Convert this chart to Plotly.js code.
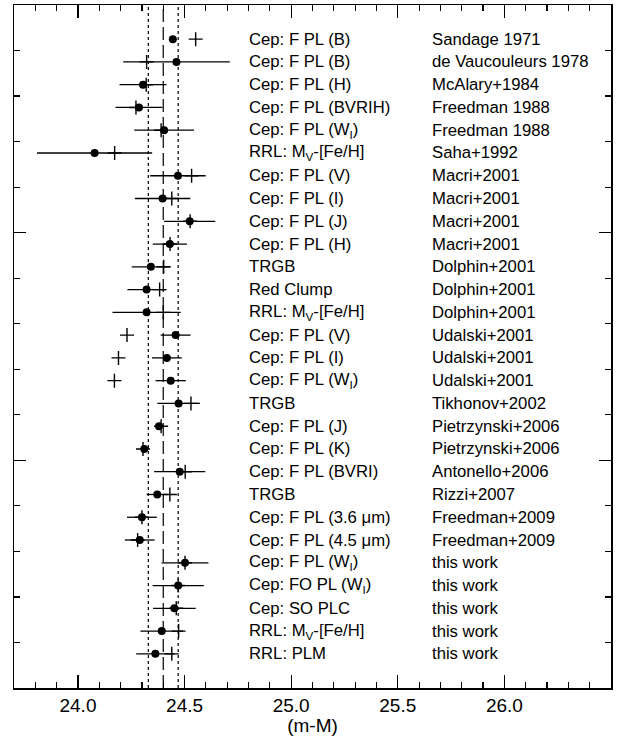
<!DOCTYPE html>
<html>
<head>
<meta charset="utf-8">
<script src="https://cdn.plot.ly/plotly-3.0.1.min.js"></script>
<style>html,body{margin:0;padding:0;background:#fff;}#chart{width:618px;height:736px;}</style>
</head>
<body>
<div id="chart"></div>
<script>
// Method labels (left column) and references (right column), top to bottom
const methods = [
  "Cep: F PL (B)", "Cep: F PL (B)", "Cep: F PL (H)", "Cep: F PL (BVRIH)", "Cep: F PL (W<sub>I</sub>)",
  "RRL: M<sub>V</sub>-[Fe/H]", "Cep: F PL (V)", "Cep: F PL (I)", "Cep: F PL (J)", "Cep: F PL (H)",
  "TRGB", "Red Clump", "RRL: M<sub>V</sub>-[Fe/H]", "Cep: F PL (V)", "Cep: F PL (I)",
  "Cep: F PL (W<sub>I</sub>)", "TRGB", "Cep: F PL (J)", "Cep: F PL (K)", "Cep: F PL (BVRI)",
  "TRGB", "Cep: F PL (3.6 μm)", "Cep: F PL (4.5 μm)", "Cep: F PL (W<sub>I</sub>)", "Cep: FO PL (W<sub>I</sub>)",
  "Cep: SO PLC", "RRL: M<sub>V</sub>-[Fe/H]", "RRL: PLM"
];
const references = [
  "Sandage 1971", "de Vaucouleurs 1978", "McAlary+1984", "Freedman 1988", "Freedman 1988",
  "Saha+1992", "Macri+2001", "Macri+2001", "Macri+2001", "Macri+2001",
  "Dolphin+2001", "Dolphin+2001", "Dolphin+2001", "Udalski+2001", "Udalski+2001",
  "Udalski+2001", "Tikhonov+2002", "Pietrzynski+2006", "Pietrzynski+2006", "Antonello+2006",
  "Rizzi+2007", "Freedman+2009", "Freedman+2009", "this work", "this work",
  "this work", "this work", "this work"
];
// Distance modulus (filled circles) and errors
const modulus = [
  24.445, 24.462, 24.305, 24.286, 24.404,
  24.078, 24.469, 24.397, 24.524, 24.431,
  24.342, 24.322, 24.322, 24.458, 24.417,
  24.435, 24.472, 24.380, 24.311, 24.477,
  24.372, 24.300, 24.290, 24.502, 24.470,
  24.452, 24.393, 24.363
];
const modulusErr = [
  0, 0.25, 0.11, 0.11, 0.14,
  0.27, 0.13, 0.13, 0.12, 0.08,
  0.09, 0.09, 0.16, 0.07, 0.07,
  0.071, 0.10, 0.02, 0.02, 0.12,
  0.05, 0.07, 0.07, 0.11, 0.12,
  0.10, 0.10, 0.09
];
// Rescaled values (plus signs)
const rescaled = [
  24.552, 24.322, 24.320, 24.272, 24.390,
  24.172, 24.533, 24.440, 24.526, 24.432,
  24.402, 24.383, 24.400, 24.230, 24.190,
  24.171, 24.530, 24.390, 24.305, 24.503,
  24.431, 24.300, 24.280, 24.502, 24.470,
  24.461, 24.472, 24.440
];
// Vertical reference lines: mean (dashed) and +/- sigma (dotted)
const meanValue = [24.40];
const sigmaValues = [24.33, 24.47];
const xTickVals = [24.0, 24.5, 25.0, 25.5, 26.0];

const rowY = methods.map((_, i) => i + 1.5);
const methodX = 24.795, refX = 25.649;

const FONT = 'Liberation Sans, Arial, Helvetica, sans-serif';

const traces = [
  {
    type: 'scatter', mode: 'markers', x: modulus, y: rowY,
    error_x: {type: 'data', array: modulusErr, visible: true, color: '#000', thickness: 1.3, width: 0},
    marker: {symbol: 'circle', size: 8, color: '#000'},
    hoverinfo: 'x', showlegend: false
  },
  {
    type: 'scatter', mode: 'markers', x: rescaled, y: rowY,
    marker: {symbol: 'cross-thin', size: 10, color: '#000', line: {color: '#000', width: 1.4}},
    hoverinfo: 'x', showlegend: false
  }
];

const annotations = [];
methods.forEach((m, i) => {
  annotations.push({x: methodX, y: rowY[i], xref: 'x', yref: 'y', text: m, showarrow: false,
    xanchor: 'left', yanchor: 'middle', font: {family: FONT, size: 16.7, color: '#000'}});
  annotations.push({x: refX, y: rowY[i], xref: 'x', yref: 'y', text: references[i], showarrow: false,
    xanchor: 'left', yanchor: 'middle', font: {family: FONT, size: 16.7, color: '#000'}});
});

const shapes = [];
meanValue.forEach(v => shapes.push({type: 'line', xref: 'x', yref: 'paper', x0: v, x1: v, y0: 0, y1: 1,
  layer: 'below', line: {color: '#000', width: 1.2, dash: '13px,5px'}}));
sigmaValues.forEach(v => shapes.push({type: 'line', xref: 'x', yref: 'paper', x0: v, x1: v, y0: 0, y1: 1,
  layer: 'below', line: {color: '#000', width: 1.2, dash: 'dot'}}));

const layout = {
  width: 618, height: 736,
  margin: {l: 14, r: 7, t: 5, b: 48},
  paper_bgcolor: '#fff', plot_bgcolor: '#fff',
  font: {family: FONT, color: '#000'},
  showlegend: false,
  xaxis: {
    range: [23.7, 26.5], tickvals: xTickVals, tickformat: '.1f',
    ticks: 'inside', ticklen: 13, tickwidth: 1.2, tickcolor: '#000',
    minor: {dtick: 0.1, tick0: 0, ticks: 'inside', ticklen: 6, tickwidth: 1.2, tickcolor: '#000', showgrid: false},
    showline: true, linecolor: '#000', linewidth: 1.5, mirror: 'allticks',
    showgrid: false, zeroline: false,
    tickfont: {family: FONT, size: 19, color: '#000'},
    title: {text: '(m-M)', font: {family: FONT, size: 19, color: '#000'}, standoff: 7}
  },
  yaxis: {
    range: [30, 0], tickmode: 'linear', tick0: 0, dtick: 10,
    ticks: 'inside', ticklen: 12, tickwidth: 1.2, tickcolor: '#000',
    minor: {dtick: 2, tick0: 0, ticks: 'inside', ticklen: 6, tickwidth: 1.2, tickcolor: '#000', showgrid: false},
    showticklabels: false,
    showline: true, linecolor: '#000', linewidth: 1.5, mirror: 'allticks',
    showgrid: false, zeroline: false
  },
  annotations: annotations,
  shapes: shapes
};

Plotly.newPlot('chart', traces, layout, {displayModeBar: false, staticPlot: true});
</script>
</body>
</html>
